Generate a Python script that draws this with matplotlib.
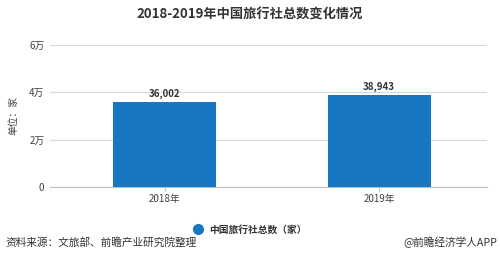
import matplotlib.pyplot as plt
import numpy as np
from matplotlib.lines import Line2D

plt.rcParams["font.family"] = ["Noto Sans CJK SC", "DejaVu Sans"]

YEARS = ["2018年", "2019年"]
COUNTS = [36002, 38943]
Y_TICKS = [0, 20000, 40000, 60000]
Y_TICK_LABELS = ["0", "2万", "4万", "6万"]
SERIES_NAME = "中国旅行社总数（家）"

BAR_COLOR = "#1877c3"
TEXT_COLOR = "#404040"

fig = plt.figure(figsize=(5, 2.69), dpi=100)
ax = fig.add_axes([0.1, 0.305, 0.874, 0.528])

x = np.arange(len(YEARS))
ax.bar(x, COUNTS, width=0.48, color=BAR_COLOR, zorder=3)
for xi, v in zip(x, COUNTS):
    ax.text(xi, v + 1200, f"{v:,}", ha="center", va="bottom", fontsize=7,
            fontweight="bold", color="#333333")

ax.set_xlim(-0.534, 1.503)
ax.set_ylim(0, 60000)
ax.set_yticks(Y_TICKS)
ax.set_yticklabels(Y_TICK_LABELS, fontsize=7, color=TEXT_COLOR)
ax.set_xticks(x)
ax.set_xticklabels(YEARS, fontsize=7, color=TEXT_COLOR)
ax.grid(axis="y", color="#d9d9d9", linewidth=0.8, zorder=0)
for s in ["top", "right", "left"]:
    ax.spines[s].set_visible(False)
ax.spines["bottom"].set_color("#bfbfbf")
ax.tick_params(axis="y", length=0, pad=4)
ax.tick_params(axis="x", length=3, color="#bfbfbf", pad=2)
ax.set_ylabel("单位：家", fontsize=7, color=TEXT_COLOR, labelpad=8)

fig.text(0.5, 0.945, "2018-2019年中国旅行社总数变化情况", ha="center", va="center",
         fontsize=9.5, fontweight="bold", color="#333333")

handle = Line2D([], [], marker="o", linestyle="none", markersize=7,
                color=BAR_COLOR)
leg = ax.legend([handle], [SERIES_NAME], loc="center", bbox_to_anchor=(0.457, -0.3),
                frameon=False, fontsize=7, handlelength=1.0, handletextpad=0.6,
                labelcolor="#333333")
for t in leg.get_texts():
    t.set_fontweight("bold")

fig.text(0.01, 0.1, "资料来源：文旅部、前瞻产业研究院整理", ha="left", va="center",
         fontsize=7.7, color="#333333")
fig.text(0.995, 0.1, "@前瞻经济学人APP", ha="right", va="center",
         fontsize=7.7, color="#333333")

fig.savefig("out.png", dpi=100)
